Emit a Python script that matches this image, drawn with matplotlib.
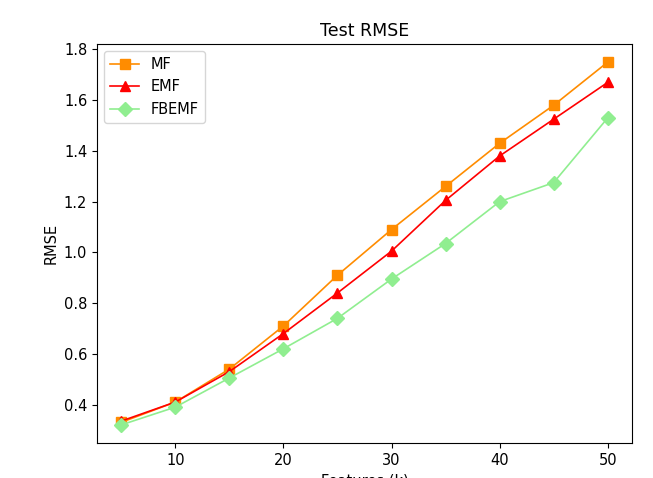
import matplotlib
matplotlib.use("Agg")
import matplotlib.pyplot as plt

# ── données ───────────────────────────────────────────────────────────────────
features = [5, 10, 15, 20, 25, 30, 35, 40, 45, 50]
rmse_mf = [0.33, 0.41, 0.54, 0.71, 0.91, 1.09, 1.26, 1.43, 1.58, 1.75]
rmse_emf = [0.335, 0.41, 0.53, 0.68, 0.84, 1.005, 1.205, 1.38, 1.525, 1.67]
rmse_fbemf = [0.32, 0.39, 0.505, 0.62, 0.74, 0.895, 1.035, 1.20, 1.275, 1.53]

fig = plt.figure(figsize=(6.53, 4.78), dpi=100)
ax = fig.add_axes([97 / 653, 35 / 478, 535 / 653, 399 / 478])

ax.plot(features, rmse_mf, color="darkorange", marker="s", markersize=7,
        linewidth=1.2, label="MF")
ax.plot(features, rmse_emf, color="red", marker="^", markersize=7,
        linewidth=1.2, label="EMF")
ax.plot(features, rmse_fbemf, color="lightgreen", marker="D", markersize=7,
        linewidth=1.2, label="FBEMF")

ax.set_title("Test RMSE", fontsize=12.5)
ax.set_ylabel("RMSE", fontsize=10.5)
ax.set_xlabel("Features (k)", fontsize=10.5)
ax.tick_params(labelsize=10.5)
ax.legend(loc="upper left", fontsize=10.5)

plt.savefig("out.png", dpi=100)
plt.close()
